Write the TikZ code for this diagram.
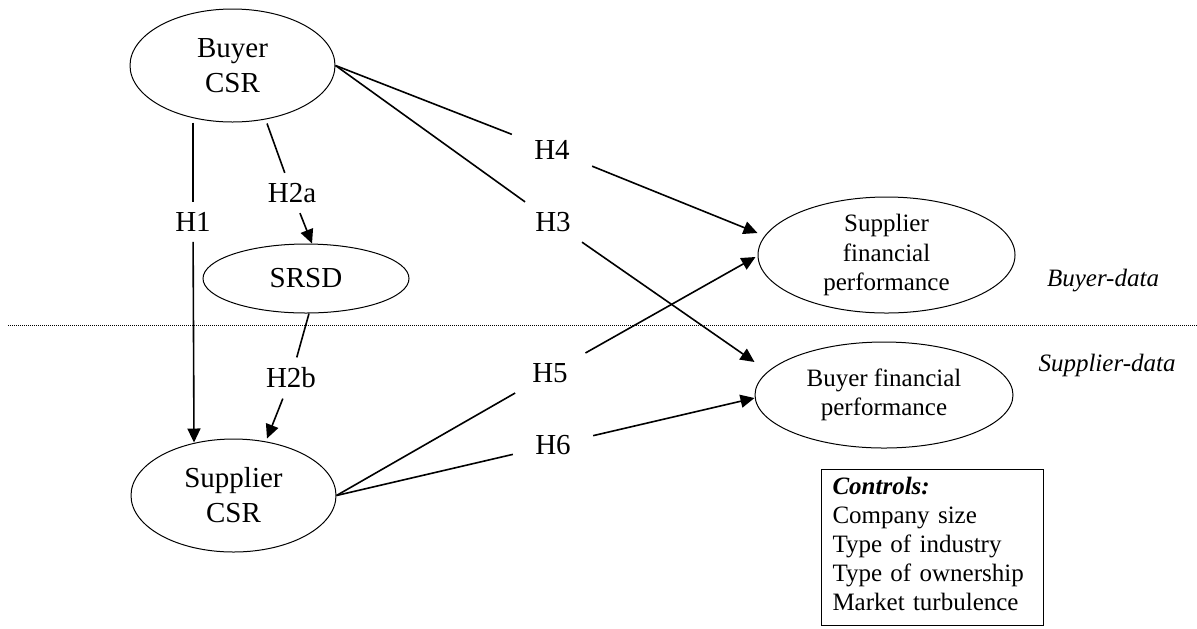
\documentclass[tikz,border=0pt]{standalone}
\usepackage{fontspec}
\setmainfont{Liberation Serif}
\usetikzlibrary{arrows.meta,shapes.geometric,calc}
\begin{document}
\begin{tikzpicture}[x=0.5pt,y=-0.5pt,
  lat/.style={ellipse,draw,line width=0.5pt,inner sep=0pt,align=center,font=\fontsize{14.5pt}{17.5pt}\selectfont},
  latsm/.style={lat,font=\fontsize{12.5pt}{14.75pt}\selectfont},
  hyp/.style={inner xsep=11pt,inner ysep=5pt,font=\fontsize{14.5pt}{17.5pt}\selectfont},
  conn/.style={line width=0.8pt},
  arr/.style={conn,-{Triangle[length=7pt,width=6.5pt]}},
  side/.style={font=\fontsize{12.5pt}{15pt}\selectfont\itshape}]
\useasboundingbox (0,0) rectangle (1197,628);
% latent constructs
\node[lat,minimum width=102.5pt,minimum height=56.5pt] (bcsr) at (232.5,65.5) {Buyer\\CSR};
\node[lat,minimum width=103pt,minimum height=34.5pt] (srsd) at (306,278.5) {SRSD};
\node[lat,minimum width=102.5pt,minimum height=56.5pt] (scsr) at (233.5,495.5) {Supplier\\CSR};
\node[latsm,minimum width=128.5pt,minimum height=58pt] (sfp) at (886.5,255) {Supplier\\financial\\performance};
\node[latsm,minimum width=129pt,minimum height=53pt] (bfp) at (884,395) {Buyer financial\\performance};
% hypothesis labels
\node[hyp] (h1) at (193,222) {H1};
\node[hyp] (h2a) at (292,193) {H2a};
\node[hyp] (h2b) at (291,378) {H2b};
\node[hyp] (h3) at (553,222) {H3};
\node[hyp] (h4) at (552,150) {H4};
\node[hyp] (h5) at (550,373) {H5};
\node[hyp] (h6) at (553,445) {H6};
% connectors
\draw[conn] ($(bcsr.south)+(-39.5,0)$) -- (h1);
\draw[arr] (h1) -- ($(scsr.north)+(-39.5,4)$);
\draw[conn] ($(bcsr.south)+(34.5,1)$) -- (h2a);
\draw[arr] (h2a) -- ($(srsd.north)+(6,0)$);
\draw[conn] ($(srsd.south)+(3,0)$) -- (h2b);
\draw[arr] (h2b) -- ($(scsr.north)+(33.5,0)$);
\draw[conn] (bcsr.east) -- (h4);
\draw[arr] (h4) -- ($(sfp.west)+(0,-22)$);
\draw[conn] (bcsr.east) -- (h3);
\draw[arr] (h3) -- ($(bfp.west)+(0,-33)$);
\draw[conn] (scsr.east) -- (h5);
\draw[arr] (h5) -- ($(sfp.west)+(-2,2)$);
\draw[conn] (scsr.east) -- (h6);
\draw[arr] (h6) -- ($(bfp.west)+(0,3)$);
% data split
\coordinate (dl) at (8,325);
\coordinate (dr) at (1197,325);
\draw[line width=0.5pt,dash pattern=on 0.5pt off 0.5pt] (dl) -- (dr);
\node[side] (bd) at (1103,281) {Buyer-data};
\node[side] (sd) at (1107,365) {Supplier-data};
% controls
\node[draw,line width=0.5pt,anchor=north west,inner xsep=5.5pt,inner ysep=4pt,text width=100pt,align=left,font=\fontsize{12.5pt}{14.5pt}\selectfont] (ctrl) at (821,469) {\textbf{\textit{Controls:}}\\Company size\\Type of industry\\Type of ownership\\Market turbulence\rule[-3.5pt]{0pt}{0pt}};
\end{tikzpicture}
\end{document}
